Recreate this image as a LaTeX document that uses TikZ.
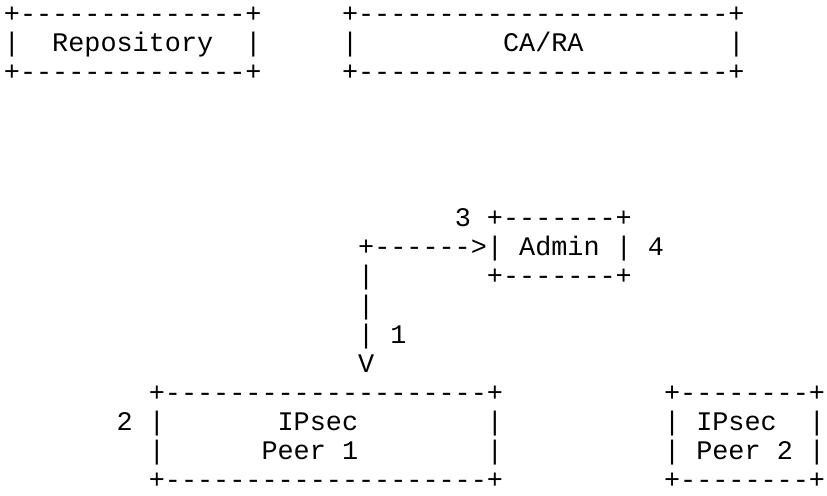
\documentclass[tikz,border=0pt]{standalone}
\usepackage{fontspec}
\setmonofont{Liberation Mono}
\tikzset{
  asc/.style={inner sep=0pt, outer sep=0pt, anchor=base west,
    font=\ttfamily\fontsize{26.83pt}{29pt}\selectfont, text=black},
}
\newcommand{\At}[4]{\node[asc] (#1) at (#2,#3+0.275) {#4};}
\begin{document}
\begin{tikzpicture}[x=16.1pt,y=-29.15pt]
\useasboundingbox[fill=white] (-0.245,-0.4974) rectangle (51.121,16.484);
% Repository and CA/RA
\At{repoT}{0}{0}{+--------------+}
\At{caT}{21}{0}{+-----------------------+}
\At{repoL}{0}{1}{|}
\At{repo}{3}{1}{Repository}
\At{repoR}{15}{1}{|}
\At{caL}{21}{1}{|}
\At{ca}{31}{1}{CA/RA}
\At{caR}{45}{1}{|}
\At{repoB}{0}{2}{+--------------+}
\At{caB}{21}{2}{+-----------------------+}
% Admin
\At{lab3}{28}{7}{3}
\At{admT}{30}{7}{+-------+}
\At{arrH}{22}{8}{+------>}
\At{admL}{30}{8}{|}
\At{adm}{32}{8}{Admin}
\At{admR}{38}{8}{|}
\At{lab4}{40}{8}{4}
\At{arrV1}{22}{9}{|}
\At{admB}{30}{9}{+-------+}
\At{arrV2}{22}{10}{|}
\At{arrV3}{22}{11}{|}
\At{lab1}{24}{11}{1}
\At{arrTip}{22}{12}{V}
% IPsec peers
\At{p1T}{9}{13}{+--------------------+}
\At{p2T}{41}{13}{+--------+}
\At{lab2}{7}{14}{2}
\At{p1L}{9}{14}{|}
\At{p1a}{17}{14}{IPsec}
\At{p1R}{30}{14}{|}
\At{p2L}{41}{14}{|}
\At{p2a}{43}{14}{IPsec}
\At{p2R}{50}{14}{|}
\At{p1Lb}{9}{15}{|}
\At{p1b}{16}{15}{Peer 1}
\At{p1Rb}{30}{15}{|}
\At{p2Lb}{41}{15}{|}
\At{p2b}{43}{15}{Peer 2}
\At{p2Rb}{50}{15}{|}
\At{p1B}{9}{16}{+--------------------+}
\At{p2B}{41}{16}{+--------+}
\end{tikzpicture}
\end{document}
